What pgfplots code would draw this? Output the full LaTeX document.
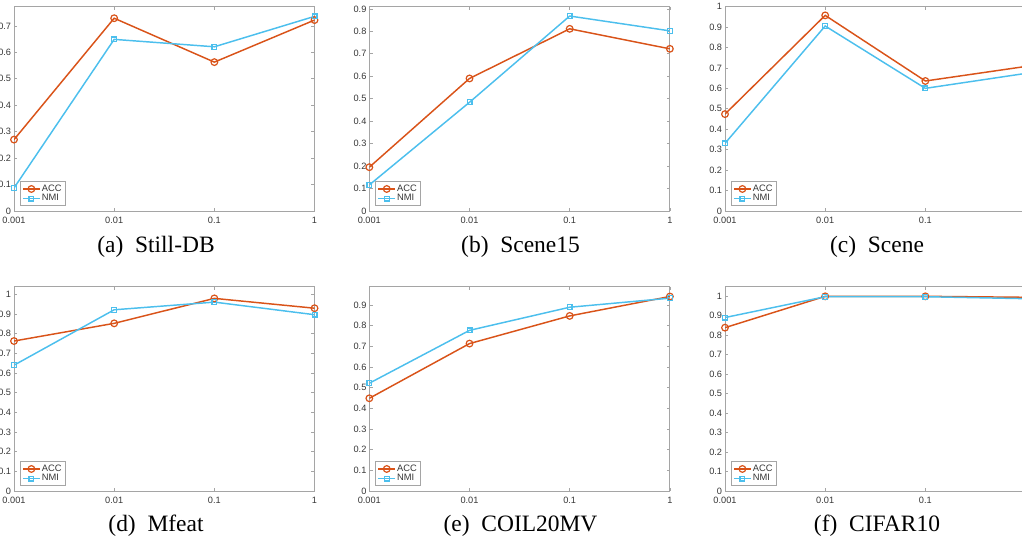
\documentclass[border=0pt]{standalone}
\usepackage{fontspec}
\setmainfont{Liberation Serif}
\newfontfamily\helv{Liberation Sans}
\usepackage{pgfplots}
\pgfplotsset{compat=1.18}
\definecolor{accc}{rgb}{0.85,0.325,0.098}
\definecolor{nmic}{rgb}{0.30,0.75,0.93}
\definecolor{axgray}{RGB}{165,165,165}
\definecolor{lblgray}{RGB}{55,55,55}
\pgfplotsset{
  mystyle/.style={
    scale only axis, width=225.4pt, height=153.3pt,
    anchor=south west,
    xmin=0, xmax=3, ymin=0,
    xtick={0,1,2,3}, xticklabels={0.001,0.01,0.1,1},
    axis line style={axgray, line width=0.6pt},
    tick style={axgray, line width=0.5pt},
    tick align=inside, major tick length=2.5pt,
    every tick label/.append style={font=\helv\fontsize{6.9pt}{7pt}\selectfont, text=lblgray},
    /pgf/number format/assume math mode=true,
    yticklabel style={inner sep=0pt, xshift=-2pt, /pgf/number format/fixed},
    xticklabel style={inner sep=0pt, yshift=-4.3pt},
    legend style={at={(0,0)}, anchor=south west, xshift=4.5pt, yshift=3.75pt,
      draw=axgray, line width=0.5pt, fill=white,
      font=\helv\fontsize{7pt}{7pt}\selectfont, text=lblgray,
      inner xsep=1.5pt, inner ysep=1.2pt, row sep=-1.2pt,
      nodes={inner sep=1pt}},
    legend cell align=left,
    legend image code/.code={\draw[mark repeat=2,mark phase=2,##1] plot coordinates {(0pt,0pt) (6.25pt,0pt) (12.5pt,0pt)};},
    cycle list={{accc, line width=1.1pt, mark=o, mark size=2.5pt, mark options={line width=0.9pt}},
                {nmic, line width=1.1pt, mark=square, mark size=1.8pt, mark options={line width=0.9pt}}},
  }
}
\begin{document}
\begin{tikzpicture}
\path[use as bounding box] (0pt,0pt) rectangle (766.5pt,405.75pt);
\clip (0pt,0pt) rectangle (766.5pt,405.75pt);
% (a)
\begin{axis}[mystyle, at={(10.5pt,247.5pt)}, ymax=0.773, ytick={0,0.1,0.2,0.3,0.4,0.5,0.6,0.7}]
\addplot coordinates {(0,0.270) (1,0.729) (2,0.563) (3,0.722)};
\addplot coordinates {(0,0.087) (1,0.649) (2,0.621) (3,0.736)};
\legend{ACC,NMI}
\end{axis}
% (b)
\begin{axis}[mystyle, at={(277pt,247.5pt)}, ymax=0.91, ytick={0,0.1,0.2,0.3,0.4,0.5,0.6,0.7,0.8,0.9}]
\addplot coordinates {(0,0.195) (1,0.590) (2,0.811) (3,0.722)};
\addplot coordinates {(0,0.116) (1,0.484) (2,0.868) (3,0.802)};
\legend{ACC,NMI}
\end{axis}
% (c)
\begin{axis}[mystyle, at={(543.75pt,247.5pt)}, ymax=1, ytick={0,0.1,0.2,0.3,0.4,0.5,0.6,0.7,0.8,0.9,1}, xticklabels={0.001,0.01,0.1,{}}]
\addplot coordinates {(0,0.474) (1,0.957) (2,0.636) (3,0.707)};
\addplot coordinates {(0,0.331) (1,0.905) (2,0.600) (3,0.673)};
\legend{ACC,NMI}
\end{axis}
% (d)
\begin{axis}[mystyle, at={(10.5pt,37.5pt)}, ymax=1.04, ytick={0,0.1,0.2,0.3,0.4,0.5,0.6,0.7,0.8,0.9,1}]
\addplot coordinates {(0,0.763) (1,0.853) (2,0.980) (3,0.930)};
\addplot coordinates {(0,0.640) (1,0.922) (2,0.961) (3,0.897)};
\legend{ACC,NMI}
\end{axis}
% (e)
\begin{axis}[mystyle, at={(277pt,37.5pt)}, ymax=0.99, ytick={0,0.1,0.2,0.3,0.4,0.5,0.6,0.7,0.8,0.9}]
\addplot coordinates {(0,0.449) (1,0.714) (2,0.848) (3,0.942)};
\addplot coordinates {(0,0.522) (1,0.778) (2,0.890) (3,0.934)};
\legend{ACC,NMI}
\end{axis}
% (f)
\begin{axis}[mystyle, at={(543.75pt,37.5pt)}, ymax=1.05, ytick={0,0.1,0.2,0.3,0.4,0.5,0.6,0.7,0.8,0.9,1}, xticklabels={0.001,0.01,0.1,{}}]
\addplot coordinates {(0,0.839) (1,1.000) (2,1.000) (3,0.995)};
\addplot coordinates {(0,0.891) (1,0.998) (2,0.998) (3,0.988)};
\legend{ACC,NMI}
\end{axis}
\begin{scope}[every node/.style={anchor=base, inner sep=0pt, font=\fontsize{17.6pt}{20pt}\selectfont}]
\node at (117pt,216.2pt) {(a)\ \ Still-DB};
\node at (390.4pt,216.2pt) {(b)\ \ Scene15};
\node at (657.75pt,216.2pt) {(c)\ \ Scene};
\node at (117pt,7.3pt) {(d)\ \ Mfeat};
\node at (390.4pt,7.3pt) {(e)\ \ COIL20MV};
\node at (657.75pt,7.3pt) {(f)\ \ CIFAR10};
\end{scope}
\end{tikzpicture}
\end{document}
